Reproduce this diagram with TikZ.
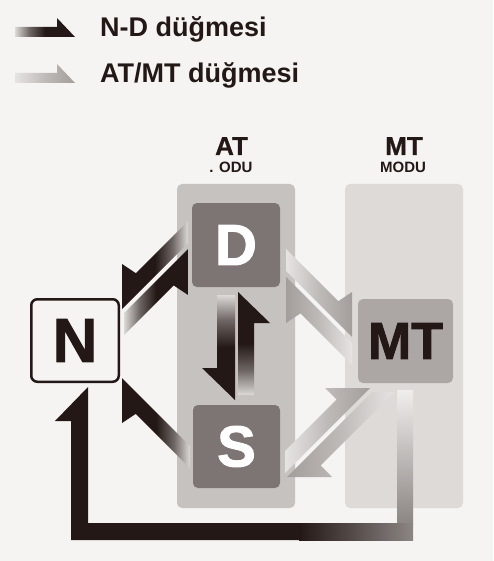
\documentclass[tikz,border=0pt]{standalone}
\usepackage{fontspec}
\setmainfont{Liberation Sans}
\newfontface\heavy[FakeBold=1.6]{Liberation Sans Bold}
\newfontface\semiheavy[FakeBold=0.8]{Liberation Sans Bold}
\definecolor{bg}{HTML}{F5F4F3}
\definecolor{ink}{HTML}{231815}
\definecolor{atpanel}{HTML}{C6C2C0}
\definecolor{mtpanel}{HTML}{DDDAD8}
\definecolor{dsbox}{HTML}{7C7573}
\definecolor{mtbox}{HTML}{ACA7A5}
\definecolor{inkfade}{HTML}{DCD9D7}
\definecolor{inkmid}{HTML}{6E6664}
\definecolor{graydark}{HTML}{A39E9C}
\definecolor{graymid}{HTML}{BEBAB8}
\definecolor{graylight}{HTML}{E6E4E3}
\definecolor{loopgray}{HTML}{8C8684}
\definecolor{loophi}{HTML}{F0EEED}
\pgfdeclarehorizontalshading{darkarr}{100bp}{color(0bp)=(ink); color(25bp)=(ink); color(50bp)=(ink); color(63bp)=(inkmid); color(75bp)=(inkfade); color(100bp)=(inkfade)}
\pgfdeclarehorizontalshading{grayarr}{100bp}{color(0bp)=(graydark); color(25bp)=(graydark); color(50bp)=(graymid); color(75bp)=(graylight); color(100bp)=(graylight)}
\tikzset{
  panel/.style={fill=#1, rounded corners=5pt},
  keybox/.style={fill=#1, rounded corners=5pt, inner sep=0pt},
  darkarrow/.style={shading=darkarr, shading angle=#1},
  grayarrow/.style={shading=grayarr, shading angle=#1},
  legendtext/.style={anchor=base west, inner sep=0pt, text=ink, font=\fontsize{27}{30}\selectfont\bfseries},
  headbig/.style={anchor=base, inner sep=0pt, text=ink, font=\fontsize{26}{28}\selectfont\semiheavy},
  headsmall/.style={anchor=base, inner sep=0pt, text=ink, font=\fontsize{15}{17}\selectfont\bfseries},
}
\begin{document}
\begin{tikzpicture}[x=1pt,y=-1pt]
\fill[bg] (0,0) rectangle (493,561);
\useasboundingbox (0,0) rectangle (493,561);
% legend
\shade[darkarrow=180] (15,27) -- (57,27) -- (57,18) -- (75,37) -- (15,37) -- cycle;
\shade[grayarrow=180] (15,73) -- (57,73) -- (57,64) -- (75,83) -- (15,83) -- cycle;
\node[legendtext] (l1) at (100,37) {N-D düğmesi};
\node[legendtext] (l2) at (100,83) {AT/MT düğmesi};
% headers
\node[headbig] (hat) at (231.5,155) {AT};
\node[headsmall] (hatm) at (231,173) {. ODU};
\node[headbig] (hmt) at (404,155) {MT};
\node[headsmall] (hmtm) at (403,173) {MODU};
% panels
\fill[panel=atpanel] (177,184) rectangle (295,508);
\fill[panel=mtpanel] (345,184) rectangle (463,508);
% boxes
\node[keybox=dsbox, minimum width=88pt, minimum height=84pt, text=white, font=\heavy\fontsize{58}{60}\selectfont] (D) at (236,245) {D};
\node[keybox=dsbox, minimum width=87pt, minimum height=83pt, text=white, font=\heavy\fontsize{58}{60}\selectfont] (S) at (236.5,446.5) {S};
\node[keybox=mtbox, minimum width=95pt, minimum height=84pt, text=ink, font=\heavy\fontsize{52}{54}\selectfont] (MT) at (405.5,341) {MT};
\node[draw=ink, line width=2.5pt, fill=bg, rounded corners=6pt, minimum width=87.5pt, minimum height=82.5pt, inner sep=0pt, text=ink, font=\heavy\fontsize{62}{64}\selectfont] (N) at (75,340.5) {N};
% N <-> D
\shade[darkarrow=0] (122,309) -- (122,264) -- (135.8,273.2) -- (188,221) -- (188,243) -- cycle;
\shade[darkarrow=180] (188,249) -- (188,295) -- (173.6,285.4) -- (124,335) -- (124,313) -- cycle;
% D <-> MT
\shade[grayarrow=180] (352,337) -- (352,292) -- (338.2,301.2) -- (286,249) -- (286,271) -- cycle;
\shade[grayarrow=0] (286,277) -- (286,323) -- (300.4,313.4) -- (352,365) -- (352,343) -- cycle;
% D <-> S
\shade[darkarrow=90] (217,295) -- (235,295) -- (235,400) -- (202,368) -- (217,368) -- cycle;
\shade[darkarrow=270] (238,395) -- (238,292) -- (270,323) -- (254,323) -- (254,395) -- cycle;
% S -> N
\shade[darkarrow=0] (122,378) -- (190,446) -- (190,468) -- (135.8,413.8) -- (122,423) -- cycle;
% S <-> MT
\shade[grayarrow=180] (370,388) -- (325,388) -- (336.5,399.5) -- (285,451) -- (285,473) -- cycle;
\shade[grayarrow=0] (287,477) -- (372,392) -- (394,392) -- (320.5,465.5) -- (332,477) -- cycle;
% MT -> N loop
\shade[top color=loophi, middle color=graymid, bottom color=loopgray] (397,390) rectangle (413,523);
\shade[left color=ink, right color=loopgray] (299,523) rectangle (413,540);
\fill[ink] (300,523) -- (300,540) -- (71,540) -- (71,421) -- (55,421) -- (88,387) -- (88,523) -- cycle;
\end{tikzpicture}
\end{document}
